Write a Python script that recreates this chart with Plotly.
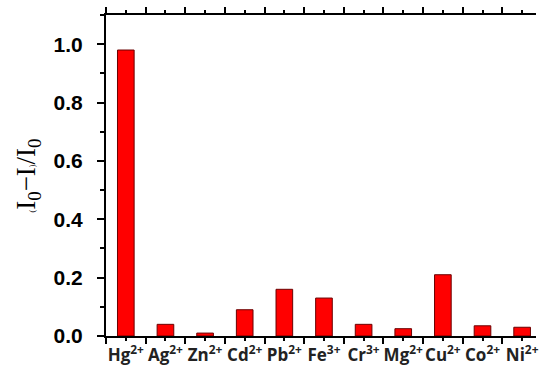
import plotly.graph_objects as go

ions = ["Hg<sup>2+</sup>", "Ag<sup>2+</sup>", "Zn<sup>2+</sup>", "Cd<sup>2+</sup>", "Pb<sup>2+</sup>",
        "Fe<sup>3+</sup>", "Cr<sup>3+</sup>", "Mg<sup>2+</sup>", "Cu<sup>2+</sup>", "Co<sup>2+</sup>", "Ni<sup>2+</sup>"]
values = [0.98, 0.04, 0.01, 0.09, 0.16, 0.13, 0.04, 0.025, 0.21, 0.035, 0.03]
positions = list(range(len(ions)))
y_ticks = [0.0, 0.2, 0.4, 0.6, 0.8, 1.0]
y_labels = ["0.0", "0.2", "0.4", "0.6", "0.8", "1.0"]

fig = go.Figure()
fig.add_trace(go.Bar(
    x=positions, y=values, width=0.42,
    marker=dict(color="#FF0000", line=dict(color="#6b0000", width=1)),
))

fig.update_layout(
    width=539, height=373,
    margin=dict(l=106, r=0, t=15, b=37),
    paper_bgcolor="white", plot_bgcolor="white",
    showlegend=False,
    xaxis=dict(
        range=[-0.5, 10.35],
        tickmode="array", tickvals=positions, ticktext=["<b>%s</b>" % t for t in ions],
        ticks="outside", ticklen=3, tickwidth=2, tickcolor="black",
        minor=dict(tickmode="array", tickvals=[p - 0.5 for p in positions],
                   ticks="outside", ticklen=6, tickwidth=2, tickcolor="black"),
        showline=True, linecolor="black", linewidth=2, mirror="allticks",
        showgrid=False, zeroline=False,
        tickfont=dict(family="Open Sans", size=17, color="#222222"),
        ticklabeloverflow="allow",
        tickangle=0,
    ),
    yaxis=dict(
        range=[0, 1.1],
        tickmode="array", tickvals=y_ticks, ticktext=["<b>%s</b>" % t for t in y_labels],
        ticks="outside", ticklen=7, tickwidth=2, tickcolor="black",
        minor=dict(dtick=0.1, tick0=0, ticks="outside", ticklen=4, tickwidth=2, tickcolor="black"),
        showline=True, linecolor="black", linewidth=2,
        showgrid=False, zeroline=False,
        tickfont=dict(family="Liberation Sans", size=21, color="black"),
        ticklabelstandoff=10,
        title=dict(text="<span style='font-size:8px'>(</span>I<sub>0</sub>\u2212I<span style='font-size:8px'>)</span>/I<sub>0</sub>",
                   font=dict(family="Liberation Serif", size=27, color="black"), standoff=10),
    ),
)

fig.write_html("out.html")
